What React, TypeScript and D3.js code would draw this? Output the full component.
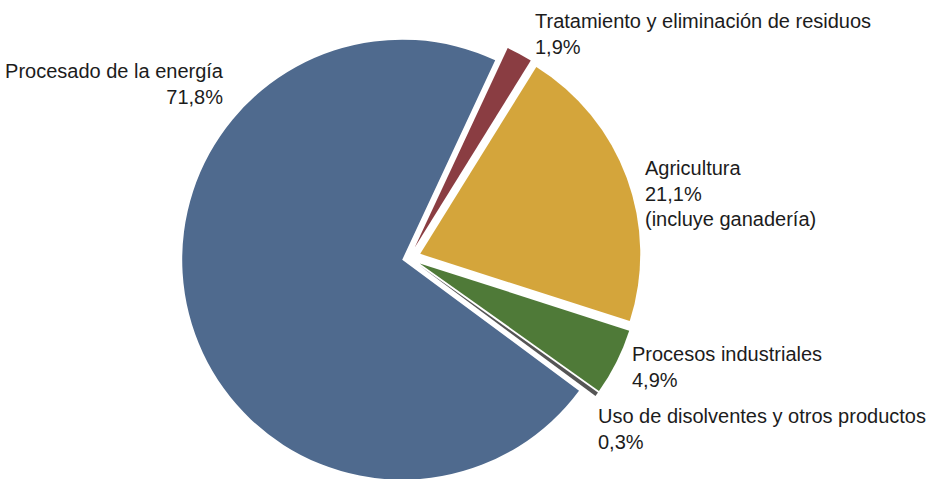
import React from "react";
import * as d3 from "d3";

const categories = [
  "Tratamiento y eliminación de residuos",
  "Agricultura",
  "Procesos industriales",
  "Uso de disolventes y otros productos",
  "Procesado de la energía",
];
const values = [1.9, 21.1, 4.9, 0.3, 71.8];
const valueLabels = ["1,9%", "21,1%", "4,9%", "0,3%", "71,8%"];
const extraLines = [[], ["(incluye ganadería)"], [], [], []];
const colors = ["#8a3d42", "#d4a53b", "#4f7a38", "#555555", "#4f6a8e"];

// layout
const W = 931;
const H = 479;
const CX = 409;
const CY = 258;
const R = 220;
const START = (25 * Math.PI) / 180;
const explode = [12, 12, 12, 12, 7];
const labelPos: { x: number; y: number; anchor: "start" | "end" }[] = [
  { x: 535, y: 28, anchor: "start" },
  { x: 645, y: 175, anchor: "start" },
  { x: 632, y: 361, anchor: "start" },
  { x: 598, y: 423, anchor: "start" },
  { x: 223, y: 78, anchor: "end" },
];
const LINE = 25.5;
const FONT = "'Liberation Sans', Arial, sans-serif";

export default function App() {
  const pie = d3
    .pie<number>()
    .sort(null)
    .value((d) => d)
    .startAngle(START)
    .endAngle(START + 2 * Math.PI);
  const arcs = pie(values);
  const arc = d3.arc<d3.PieArcDatum<number>>().innerRadius(0).outerRadius(R);

  return (
    <svg
      width={W}
      height={H}
      style={{ position: "absolute", left: 0, top: 0, background: "#fff" }}
    >
      <g transform={`translate(${CX},${CY})`}>
        {arcs.map((a, i) => {
          const mid = (a.startAngle + a.endAngle) / 2;
          const dx = Math.sin(mid) * explode[i];
          const dy = -Math.cos(mid) * explode[i];
          return (
            <path
              key={i}
              d={arc(a) || ""}
              fill={colors[i]}
              transform={`translate(${dx},${dy})`}
            />
          );
        })}
      </g>
      {categories.map((c, i) => {
        const p = labelPos[i];
        const lines = [c, valueLabels[i], ...extraLines[i]];
        return (
          <text
            key={i}
            x={p.x}
            y={p.y}
            textAnchor={p.anchor}
            fontFamily={FONT}
            fontSize={20}
            fill="#1c1c1c"
          >
            {lines.map((l, j) => (
              <tspan key={j} x={p.x} dy={j === 0 ? 0 : LINE}>
                {l}
              </tspan>
            ))}
          </text>
        );
      })}
    </svg>
  );
}
